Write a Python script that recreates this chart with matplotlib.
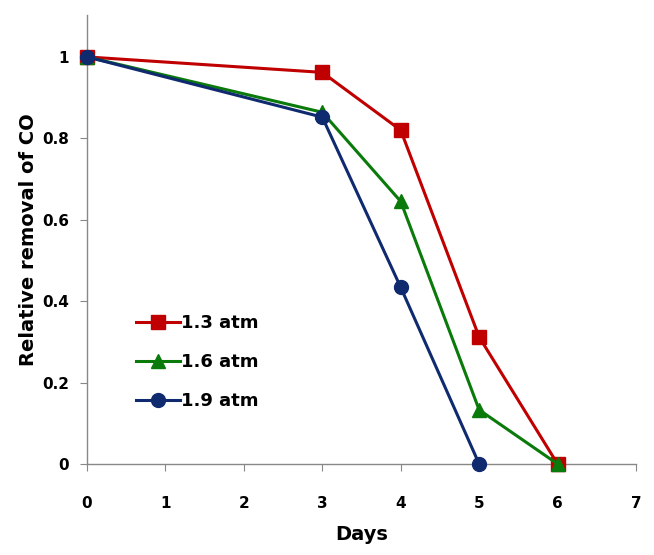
import matplotlib
matplotlib.use("Agg")
import matplotlib.pyplot as plt

days_a = [0, 3, 4, 5, 6]
removal_13 = [1.0, 0.962, 0.82, 0.312, 0.0]
removal_16 = [1.0, 0.864, 0.645, 0.133, 0.0]
days_b = [0, 3, 4, 5]
removal_19 = [1.0, 0.852, 0.434, 0.0]
labels = ["1.3 atm", "1.6 atm", "1.9 atm"]
x_ticks = [0, 1, 2, 3, 4, 5, 6, 7]
y_ticks = [0, 0.2, 0.4, 0.6, 0.8, 1]
y_tick_labels = ["0", "0.2", "0.4", "0.6", "0.8", "1"]

plt.rcParams['font.family'] = ['DejaVu Sans']

fig = plt.figure(figsize=(6.54, 5.55), dpi=100)
ax = fig.add_axes([0.133, 0.164, 0.8395, 0.809])

red = '#C00000'
green = '#0A7A0A'
navy = '#0F2A6E'

ax.plot(days_a, removal_13, color=red, lw=2.2, marker='s', ms=10, label=labels[0], clip_on=False, zorder=3)
ax.plot(days_a, removal_16, color=green, lw=2.2, marker='^', ms=10, label=labels[1], clip_on=False, zorder=4)
ax.plot(days_b, removal_19, color=navy, lw=2.2, marker='o', ms=10, label=labels[2], clip_on=False, zorder=5)

ax.set_xlim(0, 7)
ax.set_ylim(0, 1.103)
ax.set_xticks(x_ticks)
ax.set_yticks(y_ticks)
ax.set_yticklabels(y_tick_labels)

for side in ['top', 'right']:
    ax.spines[side].set_visible(False)
for side in ['left', 'bottom']:
    ax.spines[side].set_color('#888888')
    ax.spines[side].set_linewidth(1.0)

ax.tick_params(axis='x', direction='out', length=5, color='#888888', pad=18, labelsize=11)
ax.tick_params(axis='y', direction='out', length=5, color='#888888', pad=8, labelsize=11)
for lab in ax.get_xticklabels() + ax.get_yticklabels():
    lab.set_fontweight('bold')

ax.set_xlabel('Days', fontsize=14, fontweight='bold', labelpad=10)
ax.set_ylabel('Relative removal of CO', fontsize=14, fontweight='bold', labelpad=3)

ax.legend(loc='upper left', bbox_to_anchor=(0.06, 0.37), frameon=False,
          handlelength=2.4, handletextpad=0.1, labelspacing=1.17, prop={'weight': 'bold', 'size': 13})

fig.savefig('out.png', dpi=100)
